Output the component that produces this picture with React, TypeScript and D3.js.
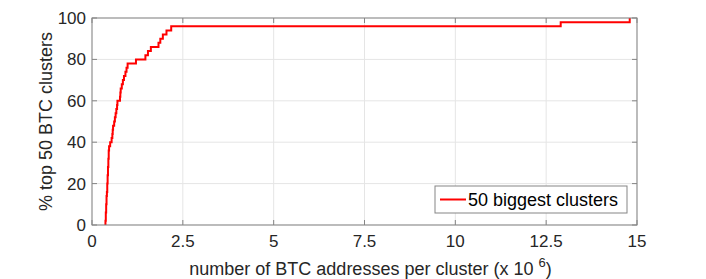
import React, { useEffect, useRef } from 'react';
import * as d3 from 'd3';

// cluster sizes (millions of addresses), sorted ascending, 50 biggest clusters
const clusterSizes = [
  0.37, 0.38, 0.38, 0.39, 0.39, 0.40, 0.40, 0.41,
  0.42, 0.42, 0.43, 0.43, 0.44, 0.44, 0.45, 0.45, 0.46, 0.46, 0.47,
  0.50,
  0.54, 0.56, 0.57, 0.58,
  0.61, 0.63, 0.65, 0.67, 0.69, 0.70,
  0.77, 0.78, 0.79,
  0.82, 0.85, 0.88,
  0.92, 0.95, 0.98,
  1.21,
  1.47, 1.54, 1.62,
  1.83, 1.88, 1.95,
  2.05,
  2.18,
  12.9,
  14.8,
];
const xTicks = [0, 2.5, 5, 7.5, 10, 12.5, 15];
const yTicks = [0, 20, 40, 60, 80, 100];
const legendLabel = '50 biggest clusters';

const App = () => {
  const svgRef = useRef<SVGSVGElement>(null);

  useEffect(() => {
    const svg = d3.select(svgRef.current);
    const width = 706;
    const height = 279;
    const margin = { top: 18, right: 69, bottom: 54, left: 92 };
    const font = '"Liberation Sans", Arial, sans-serif';
    const axisColor = '#858585';
    const textColor = '#262626';

    const x = d3.scaleLinear().domain([0, 15]).range([margin.left, width - margin.right]);
    const y = d3.scaleLinear().domain([0, 100]).range([height - margin.bottom, margin.top]);

    // cdf points
    const n = clusterSizes.length;
    const pts: [number, number][] = [[clusterSizes[0], 0]];
    clusterSizes.forEach((v, i) => pts.push([v, ((i + 1) / n) * 100]));

    // grid
    const grid = svg.append('g');
    xTicks.forEach((t) => {
      grid.append('line')
        .attr('x1', x(t)).attr('x2', x(t))
        .attr('y1', y(0)).attr('y2', y(100))
        .attr('stroke', '#e5e5e5').attr('stroke-width', 1);
    });
    yTicks.forEach((t) => {
      grid.append('line')
        .attr('x1', x(0)).attr('x2', x(15))
        .attr('y1', y(t)).attr('y2', y(t))
        .attr('stroke', '#e5e5e5').attr('stroke-width', 1);
    });

    // step line
    const line = d3.line<[number, number]>()
      .x((d) => x(d[0]))
      .y((d) => y(d[1]))
      .curve(d3.curveStepAfter);
    svg.append('path')
      .datum(pts)
      .attr('d', line)
      .attr('fill', 'none')
      .attr('stroke', '#ff0000')
      .attr('stroke-width', 2);

    // box
    svg.append('rect')
      .attr('x', x(0)).attr('y', y(100))
      .attr('width', x(15) - x(0)).attr('height', y(0) - y(100))
      .attr('fill', 'none').attr('stroke', axisColor).attr('stroke-width', 1);

    // ticks (inward, all four sides)
    const tl = 5;
    const ticks = svg.append('g').attr('stroke', axisColor);
    xTicks.forEach((t) => {
      ticks.append('line').attr('x1', x(t)).attr('x2', x(t)).attr('y1', y(0)).attr('y2', y(0) - tl);
      ticks.append('line').attr('x1', x(t)).attr('x2', x(t)).attr('y1', y(100)).attr('y2', y(100) + tl);
    });
    yTicks.forEach((t) => {
      ticks.append('line').attr('x1', x(0)).attr('x2', x(0) + tl).attr('y1', y(t)).attr('y2', y(t));
      ticks.append('line').attr('x1', x(15)).attr('x2', x(15) - tl).attr('y1', y(t)).attr('y2', y(t));
    });

    // tick labels
    svg.append('g').selectAll('text').data(xTicks).enter().append('text')
      .attr('x', (d) => x(d)).attr('y', y(0) + 22)
      .attr('text-anchor', 'middle')
      .attr('font-family', font).attr('font-size', 17).attr('fill', textColor)
      .text((d) => String(d));
    svg.append('g').selectAll('text').data(yTicks).enter().append('text')
      .attr('x', x(0) - 6).attr('y', (d) => y(d) + 6)
      .attr('text-anchor', 'end')
      .attr('font-family', font).attr('font-size', 17).attr('fill', textColor)
      .text((d) => String(d));

    // axis labels
    const xl = svg.append('text')
      .attr('x', (x(0) + x(15)) / 2 + 6).attr('y', 275)
      .attr('text-anchor', 'middle')
      .attr('font-family', font).attr('font-size', 18).attr('fill', textColor);
    xl.append('tspan').text('number of BTC addresses per cluster (x 10 ');
    xl.append('tspan').attr('dy', -8).attr('font-size', 13).text('6');
    xl.append('tspan').attr('dy', 8).text(')');

    svg.append('text')
      .attr('transform', `translate(52,${(y(0) + y(100)) / 2}) rotate(-90)`)
      .attr('text-anchor', 'middle')
      .attr('font-family', font).attr('font-size', 18).attr('fill', textColor)
      .text('% top 50 BTC clusters');

    // legend
    const lg = svg.append('g').attr('transform', 'translate(435,186)');
    lg.append('rect').attr('width', 192).attr('height', 27)
      .attr('fill', '#fff').attr('stroke', axisColor).attr('stroke-width', 1);
    lg.append('line').attr('x1', 5).attr('x2', 31).attr('y1', 13.5).attr('y2', 13.5)
      .attr('stroke', '#ff0000').attr('stroke-width', 2);
    lg.append('text').attr('x', 33).attr('y', 20)
      .attr('font-family', font).attr('font-size', 18).attr('fill', '#000')
      .text(legendLabel);

    return () => {
      svg.selectAll('*').remove();
    };
  }, []);

  return (
    <svg ref={svgRef} width={706} height={279}
      style={{ position: 'absolute', left: 0, top: 0, background: '#fff' }} />
  );
};

export default App;
